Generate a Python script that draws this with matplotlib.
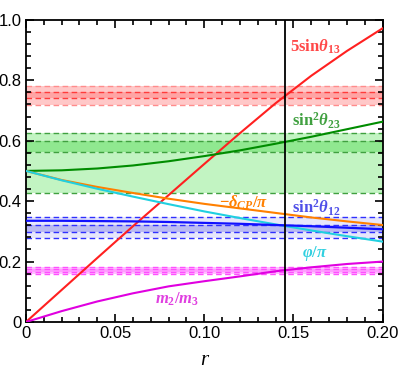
import matplotlib
matplotlib.use('Agg')
import matplotlib.pyplot as plt
from matplotlib.ticker import MultipleLocator

plt.rcParams['font.family'] = 'Liberation Sans'
plt.rcParams['mathtext.fontset'] = 'custom'
plt.rcParams['mathtext.rm'] = 'Liberation Serif:bold'
plt.rcParams['mathtext.it'] = 'Liberation Serif:italic:bold'
plt.rcParams['mathtext.bf'] = 'Liberation Serif:bold'

# r grid
r = [0, 0.02, 0.04, 0.06, 0.08, 0.10, 0.12, 0.14, 0.16, 0.18, 0.20]

s13_5 = [0, 0.106, 0.212, 0.317, 0.42, 0.523, 0.625, 0.724, 0.815, 0.897, 0.972]
s23 = [0.5, 0.502, 0.508, 0.518, 0.532, 0.549, 0.568, 0.59, 0.613, 0.638, 0.663]
dcp = [0.5, 0.47, 0.447, 0.427, 0.408, 0.391, 0.376, 0.361, 0.346, 0.333, 0.321]
phi = [0.5, 0.469, 0.441, 0.415, 0.39, 0.366, 0.344, 0.323, 0.303, 0.284, 0.266]
s12 = [0.335, 0.335, 0.334, 0.333, 0.331, 0.328, 0.325, 0.321, 0.317, 0.312, 0.307]
m23 = [0, 0.036, 0.068, 0.095, 0.118, 0.135, 0.151, 0.168, 0.181, 0.192, 0.2]

# experimental ranges: (outer lo, inner lo, inner hi, outer hi)
red_band = (0.719, 0.741, 0.761, 0.782)
green_band = (0.428, 0.564, 0.599, 0.625)
blue_band = (0.277, 0.297, 0.321, 0.349)
mag_band = (0.159, 0.167, 0.176, 0.183)

r_best = 0.145

fig = plt.figure(figsize=(3.99, 3.74), dpi=100)
ax = fig.add_axes([0.065, 0.139, 0.894, 0.808])

def band(lims, light, dark, dash_out, dash_in):
    ax.axhspan(lims[0], lims[3], color=light, lw=0, zorder=0)
    ax.axhspan(lims[1], lims[2], color=dark, lw=0, zorder=0)
    for v in (lims[0], lims[3]):
        ax.axhline(v, color=dash_out, ls=(0, (4, 2.5)), lw=1, zorder=1)
    for v in (lims[1], lims[2]):
        ax.axhline(v, color=dash_in, ls=(0, (4, 2.5)), lw=1, zorder=1)

band(red_band, '#ffc8c8', '#ffa4a4', '#ff8c8c', '#ff3c3c')
band(green_band, '#c2f4c2', '#90e890', '#40a040', '#40a040')
band(blue_band, '#e6e6fb', '#babaf2', '#3030ff', '#3030ff')
band(mag_band, '#ffc0ff', '#ff9cff', '#ff50ff', '#ff50ff')

ax.plot(r, s13_5, color='#ff2020', lw=1.5, zorder=3)
ax.plot(r, s23, color='#008c00', lw=1.5, zorder=3)
ax.plot(r, dcp, color='#ff8000', lw=1.5, zorder=3)
ax.plot(r, phi, color='#20d0e0', lw=1.5, zorder=3)
ax.plot(r, s12, color='#1010ff', lw=1.6, zorder=3)
ax.plot(r, m23, color='#e000e0', lw=1.5, zorder=3)

ax.axvline(r_best, color='black', lw=1.3, zorder=4)

lab = dict(fontsize=12, ha='center', va='center', family='Liberation Serif', weight='bold')
ax.text(0.162, 0.911, r'5sin$\theta_\mathrm{13}$', color='#ff4848', **lab)
ax.text(0.1625, 0.666, r'sin$^\mathrm{2}\theta_\mathrm{23}$', color='#40a040', **lab)
ax.text(0.122, 0.394, r'$-\delta_{CP}/\pi$', color='#ff8000', **lab)
ax.text(0.1625, 0.377, r'sin$^\mathrm{2}\theta_\mathrm{12}$', color='#5050e8', **lab)
ax.text(0.162, 0.228, r'$\varphi/\pi$', color='#30d0e0', **lab)
ax.text(0.0846, 0.075, r'$m_2/m_3$', color='#e040e0', **lab)

ax.set_xlim(0, 0.2)
ax.set_ylim(0, 1)
ax.set_xticks([0, 0.05, 0.10, 0.15, 0.20])
ax.set_xticklabels(['0', '0.05', '0.10', '0.15', '0.20'])
ax.set_yticks([0, 0.2, 0.4, 0.6, 0.8, 1.0])
ax.set_yticklabels(['0', '0.2', '0.4', '0.6', '0.8', '1.0'])
ax.xaxis.set_minor_locator(MultipleLocator(0.01))
ax.yaxis.set_minor_locator(MultipleLocator(0.04))
ax.tick_params(which='both', direction='in', top=True, right=True, width=1.2)
ax.tick_params(which='major', length=6, labelsize=12, pad=3)
ax.tick_params(which='minor', length=3.5)
for s in ax.spines.values():
    s.set_linewidth(1.3)

ax.set_xlabel('r', fontsize=15, family='Liberation Serif', style='italic', labelpad=7)

fig.savefig('out.png', dpi=100)
